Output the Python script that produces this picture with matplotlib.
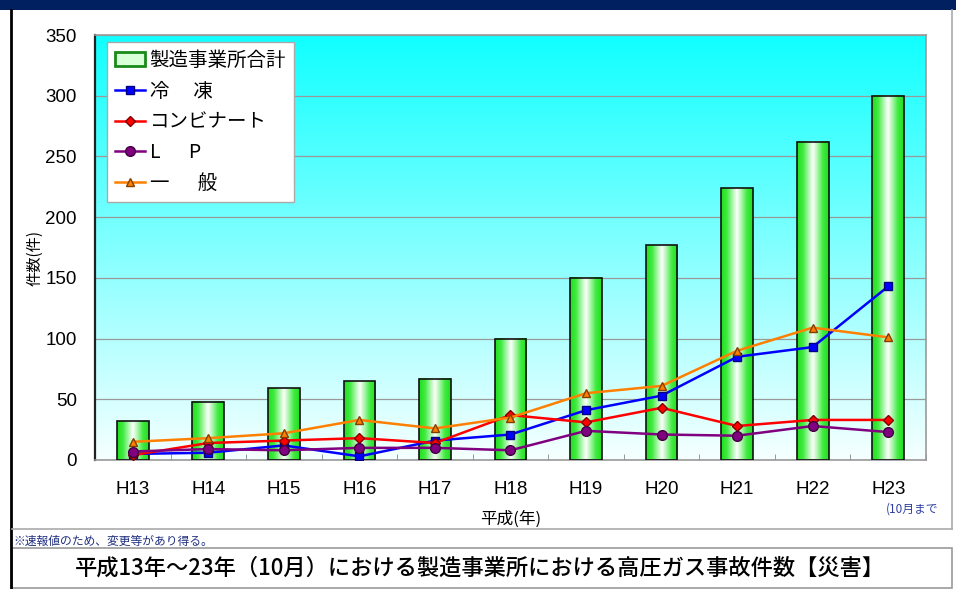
import numpy as np
import matplotlib
matplotlib.use('Agg')
import matplotlib.pyplot as plt
from matplotlib.colors import LinearSegmentedColormap
from matplotlib.patches import Rectangle
from matplotlib.lines import Line2D

plt.rcParams['font.family'] = ['Noto Sans CJK JP', 'DejaVu Sans']

# data
years = ['H13', 'H14', 'H15', 'H16', 'H17', 'H18', 'H19', 'H20', 'H21', 'H22', 'H23']
total = [32, 48, 59, 65, 67, 100, 150, 177, 224, 262, 300]
reitou = [5, 6, 12, 3, 16, 21, 41, 53, 85, 93, 143]
kombi = [4, 14, 16, 18, 14, 37, 31, 43, 28, 33, 33]
lp = [7, 9, 8, 10, 10, 8, 24, 21, 20, 28, 23]
ippan = [15, 18, 22, 33, 26, 35, 55, 61, 90, 109, 101]
yticks = [0, 50, 100, 150, 200, 250, 300, 350]

fig = plt.figure(figsize=(9.56, 5.89), dpi=100)
W, H = 956, 589

def px(x0, y0, x1, y1):
    # pixel box (top-left origin) -> figure fraction rect
    return [x0 / W, 1 - y1 / H, (x1 - x0) / W, (y1 - y0) / H]

# outer frame pieces
fig.patches.append(Rectangle((0, 1 - 10 / H), 1, 10 / H, transform=fig.transFigure,
                             facecolor='#002060', edgecolor='none', zorder=0))
fig.add_artist(Line2D([10.5 / W, 10.5 / W], [0, 1 - 10 / H], transform=fig.transFigure,
                      color='black', lw=2))
fig.add_artist(Line2D([952 / W, 952 / W], [1 - 529 / H, 1 - 10 / H], transform=fig.transFigure,
                      color='#aaaaaa', lw=1.2))
fig.add_artist(Line2D([12 / W, 952 / W], [1 - 529 / H, 1 - 529 / H], transform=fig.transFigure,
                      color='#aaaaaa', lw=1.2))
fig.patches.append(Rectangle((12 / W, 1 - 588 / H), 940 / W, 40 / H, transform=fig.transFigure,
                             facecolor='white', edgecolor='#999999', lw=1.2))

ax = fig.add_axes(px(95, 35, 926, 460))
x = np.arange(len(years))

# background gradient
bg = LinearSegmentedColormap.from_list('bg', ['#f6ffff', '#10ffff'])
ax.imshow(np.linspace(0, 1, 256).reshape(-1, 1), cmap=bg, origin='lower', aspect='auto',
          extent=[0, 1, 0, 1], transform=ax.transAxes, zorder=0)

# bars with horizontal green-white-green fill
bars = ax.bar(x, total, width=0.42, facecolor='none', edgecolor='#111111', lw=1.2, zorder=3)
gcm = LinearSegmentedColormap.from_list('g', [(0, '#1ee01e'), (0.18, '#40ea40'),
                                              (0.5, '#ffffff'), (0.82, '#40ea40'), (1, '#1ee01e')])
grad = np.linspace(0, 1, 64).reshape(1, -1)
for b in bars:
    bx, bw, bh = b.get_x(), b.get_width(), b.get_height()
    ax.imshow(grad, cmap=gcm, aspect='auto', extent=[bx, bx + bw, 0, bh], zorder=2)

# lines
ax.plot(x, reitou, color='#0000ff', lw=1.8, marker='s', ms=6, mfc='#0000ff', mec='#000080', zorder=5, label='冷　 凍')
ax.plot(x, kombi, color='#ff0000', lw=1.8, marker='D', ms=5, mfc='#ff0000', mec='#800000', zorder=5, label='コンビナート')
ax.plot(x, lp, color='#800080', lw=1.8, marker='o', ms=7, mfc='#800080', mec='#400040', zorder=5, label='L　  P')
ax.plot(x, ippan, color='#ff7f00', lw=1.8, marker='^', ms=6, mfc='#ff7f00', mec='#804000', zorder=5, label='一　  般')

ax.set_xlim(-0.5, len(years) - 0.5)
ax.set_ylim(0, 350)
ax.set_yticks(yticks)
ax.set_axisbelow(True)
ax.yaxis.grid(True, color='#999999', lw=0.9)
ax.set_xticks(x)
ax.set_xticklabels(years, family=['Liberation Sans', 'DejaVu Sans'], fontsize=13.5)
ax.set_xticks(np.arange(-0.5, len(years), 1), minor=True)
ax.tick_params(axis='x', which='major', length=0, pad=15)
ax.tick_params(axis='x', which='minor', direction='in', length=4, color='#888888')
ax.tick_params(axis='y', length=0, pad=13, labelsize=13.5)
for t in ax.get_yticklabels():
    t.set_family(['Liberation Sans', 'DejaVu Sans'])
for s in ['top', 'right', 'bottom']:
    ax.spines[s].set_color('#999999')
    ax.spines[s].set_linewidth(1.2)
ax.spines['left'].set_color('#222222')
ax.spines['left'].set_linewidth(1.6)

# legend
bar_handle = Rectangle((0, 0), 1, 1, facecolor='#d8ffd8', edgecolor='#1a8a1a', lw=2)
handles, labels = ax.get_legend_handles_labels()
leg = ax.legend([bar_handle] + handles, ['製造事業所合計'] + labels, loc='upper left',
                bbox_to_anchor=(0.0144, 0.983), borderaxespad=0, fontsize=14,
                frameon=True, fancybox=False, edgecolor='#aaaaaa', framealpha=1,
                labelspacing=0.5, handlelength=1.55, handletextpad=0.25, borderpad=0.4)
leg.set_zorder(10)

ax.set_xlabel('平成(年)', fontsize=12, labelpad=9)
fig.text(35 / W, 1 - 258 / H, '件数(件)', rotation=90, fontsize=11, ha='center', va='center')
fig.text(886 / W, 1 - 509 / H, '(10月まで', fontsize=8.5, color='#3040a0', ha='left', va='center')
fig.text(13 / W, 1 - 541 / H, '※速報値のため、変更等があり得る。', fontsize=8.5, color='#203080',
         ha='left', va='center')
fig.text(480 / W, 1 - 568 / H, '平成13年～23年（10月）における製造事業所における高圧ガス事故件数【災害】',
         fontsize=16, fontweight='medium', ha='center', va='center')

fig.savefig('out.png', dpi=100)
